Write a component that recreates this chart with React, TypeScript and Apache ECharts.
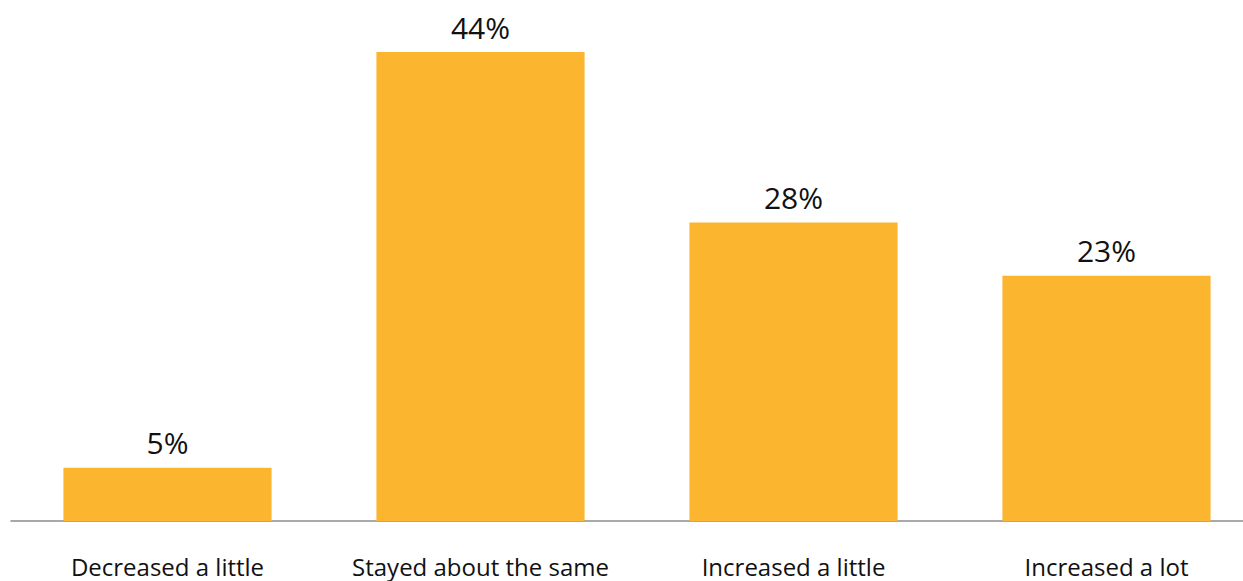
import React, { useEffect, useRef } from "react";
import * as echarts from "echarts";

const categories = ["Decreased a little", "Stayed about the same", "Increased a little", "Increased a lot"];
const values = [5, 44, 28, 23];

export default function App() {
  const ref = useRef<HTMLDivElement>(null);
  useEffect(() => {
    document.body.style.margin = "0";
    const chart = echarts.init(ref.current!, null, { renderer: "svg" });
    chart.setOption({
      animation: false,
      grid: { left: 11, width: 1252, top: 52, bottom: 60, outerBoundsMode: "none", containLabel: false },
      xAxis: {
        type: "category",
        data: categories,
        axisLine: { lineStyle: { color: "#8c8c8c", width: 1.5 } },
        axisTick: { show: false },
        axisLabel: { color: "#111", fontSize: 24, fontFamily: "Open Sans", margin: 33, interval: 0 },
      },
      yAxis: {
        type: "value",
        min: 0,
        max: 44,
        show: false,
        splitLine: { show: false },
      },
      series: [
        {
          type: "bar",
          data: values,
          barWidth: "66.5%",
          itemStyle: { color: "#FBB52E" },
          label: {
            show: true,
            position: "top",
            distance: 10,
            formatter: "{c}%",
            color: "#111",
            fontSize: 30,
            fontFamily: "Open Sans",
          },
        },
      ],
    });
    return () => chart.dispose();
  }, []);
  return <div ref={ref} style={{ position: "absolute", left: 0, top: 0, width: 1243, height: 581 }} />;
}
